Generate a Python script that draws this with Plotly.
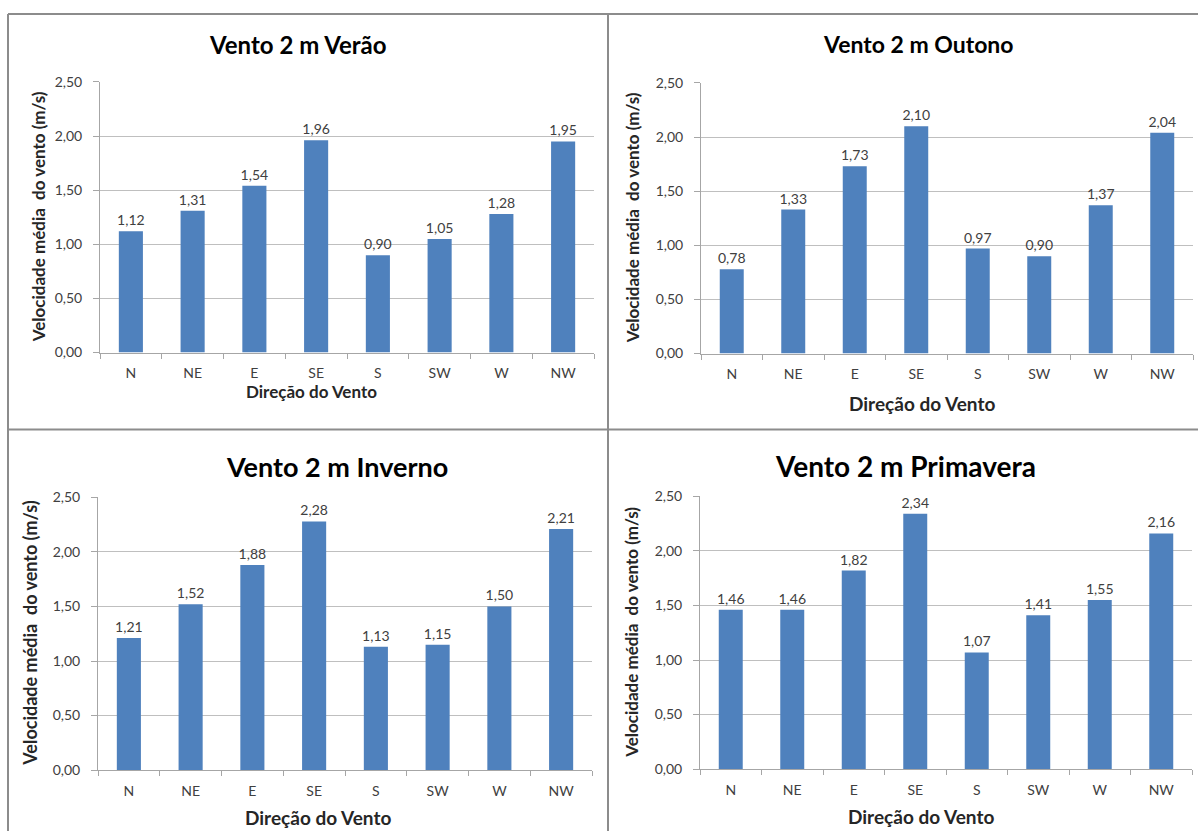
import plotly.graph_objects as go

W, H = 1198, 839

categorias = ["N", "NE", "E", "SE", "S", "SW", "W", "NW"]
verao = [1.12, 1.31, 1.54, 1.96, 0.90, 1.05, 1.28, 1.95]
outono = [0.78, 1.33, 1.73, 2.10, 0.97, 0.90, 1.37, 2.04]
inverno = [1.21, 1.52, 1.88, 2.28, 1.13, 1.15, 1.50, 2.21]
primavera = [1.46, 1.46, 1.82, 2.34, 1.07, 1.41, 1.55, 2.16]
titulos = ["Vento 2 m Verão", "Vento 2 m Outono", "Vento 2 m Inverno", "Vento 2 m Primavera"]
y_ticks = [0, 0.5, 1.0, 1.5, 2.0, 2.5]
x_titulo = "Direção do Vento"
y_titulo = "Velocidade média  do vento (m/s)"

FONT = "Lato"
BAR = "#4F81BD"
TXT = "#404040"

# the page shows the figure vertically in the band 8..831 px
Y_OFF, Y_SPAN = 8.0, 823.0

def px(x):
    return x / W

def py(y):
    return 1 - (y - Y_OFF) / Y_SPAN

panels = [
    dict(data=verao, x0=100, x1=594, y0=352, y1=81, tx=298, ty=44, ts=24, xtx=311, xty=391, xts=17, ytx=38, yts=17),
    dict(data=outono, x0=701, x1=1193, y0=353, y1=82, tx=918, ty=43, ts=23, xtx=922, xty=403, xts=19, ytx=632, yts=17),
    dict(data=inverno, x0=98, x1=592, y0=770, y1=497, tx=337, ty=466, ts=27, xtx=318, xty=817, xts=19, ytx=30, yts=18),
    dict(data=primavera, x0=700, x1=1192, y0=769, y1=496, tx=905, ty=466, ts=28, xtx=921, xty=816, xts=19, ytx=632, yts=17),
]

fig = go.Figure()
annotations = []
layout_axes = {}

for i, (p, titulo) in enumerate(zip(panels, titulos), start=1):
    xa = "x" if i == 1 else f"x{i}"
    ya = "y" if i == 1 else f"y{i}"
    fig.add_trace(go.Bar(
        x=categorias, y=p["data"],
        xaxis=xa, yaxis=ya,
        marker=dict(color=BAR, line=dict(width=0)),
        text=[f"{v:.2f}".replace(".", ",") for v in p["data"]],
        textposition="outside",
        constraintext="none",
        textfont=dict(family=FONT, size=14, color=TXT),
        cliponaxis=False,
        showlegend=False,
        hoverinfo="skip",
    ))
    xkey = "xaxis" if i == 1 else f"xaxis{i}"
    ykey = "yaxis" if i == 1 else f"yaxis{i}"
    layout_axes[xkey] = dict(
        domain=[px(p["x0"]), px(p["x1"])],
        anchor=ya,
        type="category",
        showline=True, linecolor="#A6A6A6", linewidth=1,
        ticks="outside", tickson="boundaries", ticklen=5, tickcolor="#A6A6A6",
        tickfont=dict(family=FONT, size=14, color=TXT),
        ticklabelstandoff=8,
        showgrid=False, zeroline=False, fixedrange=True,
    )
    layout_axes[ykey] = dict(
        domain=[py(p["y0"]), py(p["y1"])],
        anchor=xa,
        range=[0, 2.5],
        tickvals=y_ticks,
        tickformat=".2f",
        showline=True, linecolor="#A6A6A6", linewidth=1,
        ticks="outside", ticklen=6, tickcolor="#A6A6A6",
        tickfont=dict(family=FONT, size=14, color=TXT),
        ticklabelstandoff=8,
        showgrid=True, gridcolor="#BFBFBF", gridwidth=1,
        zeroline=False, fixedrange=True,
    )
    annotations.append(dict(
        text=f"<b>{titulo}</b>", xref="paper", yref="paper",
        x=px(p["tx"]), y=py(p["ty"]), xanchor="center", yanchor="middle",
        showarrow=False, font=dict(family=FONT, size=p["ts"], color="#000000"),
    ))
    annotations.append(dict(
        text=f"<b>{x_titulo}</b>", xref="paper", yref="paper",
        x=px(p["xtx"]), y=py(p["xty"]), xanchor="center", yanchor="middle",
        showarrow=False, font=dict(family=FONT, size=p["xts"], color="#262626"),
    ))
    annotations.append(dict(
        text=f"<b>{y_titulo}</b>", xref="paper", yref="paper",
        x=px(p["ytx"]), y=py((p["y0"] + p["y1"]) / 2), xanchor="center", yanchor="middle",
        textangle=-90,
        showarrow=False, font=dict(family=FONT, size=p["yts"], color="#262626"),
    ))

shapes = [
    dict(type="line", xref="paper", yref="paper", x0=px(8), x1=px(8), y0=py(13), y1=0,
         line=dict(color="#8C8C8C", width=2)),
    dict(type="line", xref="paper", yref="paper", x0=px(8), x1=1, y0=py(13), y1=py(13),
         line=dict(color="#8C8C8C", width=2)),
    dict(type="line", xref="paper", yref="paper", x0=px(608), x1=px(608), y0=py(13), y1=0,
         line=dict(color="#8C8C8C", width=2)),
    dict(type="line", xref="paper", yref="paper", x0=px(8), x1=1, y0=py(429), y1=py(429),
         line=dict(color="#8C8C8C", width=2)),
]

fig.update_layout(
    width=W, height=H,
    margin=dict(l=0, r=0, t=0, b=0),
    paper_bgcolor="white", plot_bgcolor="white",
    separators=",.",
    bargap=0.61,
    annotations=annotations,
    shapes=shapes,
    font=dict(family=FONT),
    **layout_axes,
)

fig.write_html("out.html")
